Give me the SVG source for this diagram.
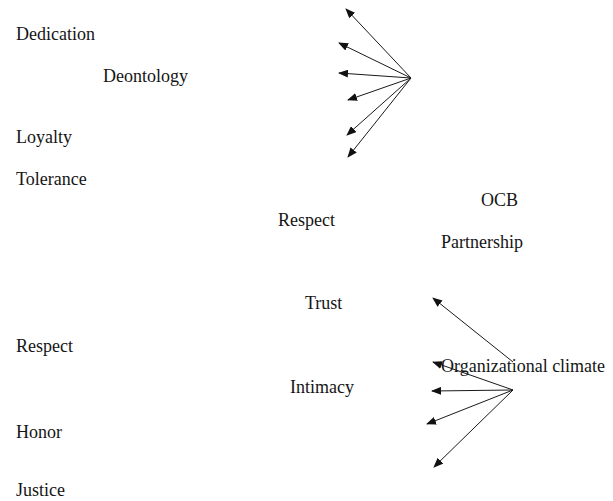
<svg xmlns="http://www.w3.org/2000/svg" width="613" height="501" viewBox="0 0 613 501">
<defs>
<style>
text{font-family:"Liberation Serif","Times New Roman",serif;font-size:18px;fill:#151515}
.c line{stroke:#1a1a1a;stroke-width:1;marker-end:url(#ah)}
</style>
<marker id="ah" markerUnits="userSpaceOnUse" markerWidth="10" markerHeight="8" refX="9" refY="4" orient="auto">
<path d="M0,0 L10,4 L0,8 z" fill="#111"/>
</marker>
</defs>
<rect width="613" height="501" fill="#fff"/>
<g id="n-dedication"><text x="16" y="40">Dedication</text></g>
<g id="n-deontology"><text x="103" y="82">Deontology</text></g>
<g id="n-loyalty"><text x="16" y="143">Loyalty</text></g>
<g id="n-tolerance"><text x="16" y="185">Tolerance</text></g>
<g id="n-respect1"><text x="278" y="226">Respect</text></g>
<g id="n-ocb"><text x="481" y="206">OCB</text></g>
<g id="n-partnership"><text x="441" y="248">Partnership</text></g>
<g id="n-trust"><text x="305" y="309">Trust</text></g>
<g id="n-respect2"><text x="16" y="352">Respect</text></g>
<g id="n-intimacy"><text x="290" y="393">Intimacy</text></g>
<g id="n-honor"><text x="16" y="438">Honor</text></g>
<g id="n-justice"><text x="16" y="496">Justice</text></g>
<g id="n-climate"><text x="441" y="372">Organizational climate</text></g>
<g class="c" id="connectors">
<line x1="411" y1="78" x2="346" y2="9"/>
<line x1="411" y1="78" x2="339" y2="43"/>
<line x1="411" y1="78" x2="339" y2="73"/>
<line x1="411" y1="78" x2="348" y2="100"/>
<line x1="411" y1="78" x2="347" y2="135"/>
<line x1="411" y1="78" x2="348" y2="157"/>
<line x1="513" y1="362" x2="433" y2="298"/>
<line x1="513" y1="390" x2="433" y2="362"/>
<line x1="513" y1="390" x2="432" y2="391"/>
<line x1="513" y1="390" x2="427" y2="424"/>
<line x1="513" y1="390" x2="434" y2="467"/>
</g>
</svg>
